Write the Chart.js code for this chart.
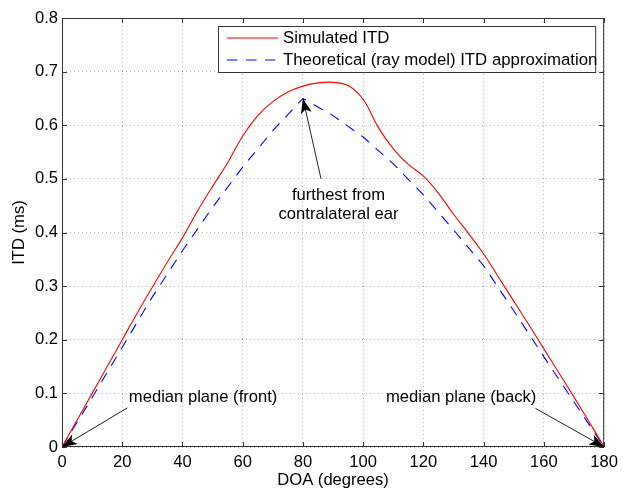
<!DOCTYPE html>
<html>
<head>
<meta charset="utf-8">
<script src="https://cdn.jsdelivr.net/npm/chart.js@4"></script>
<style>
  body { margin: 0; background: #fff; }
</style>
</head>
<body>
<canvas id="grafico" width="623" height="490"></canvas>
<script>
// dados
let doaSim = [0, 5, 10, 15, 20, 25, 30, 35, 40, 45, 50, 55, 60, 65, 70, 75, 80, 85, 90,
  95, 100, 105, 110, 115, 120, 125, 130, 135, 140, 145, 150, 155, 160, 165, 170, 175, 180];
let itdSim = [0, 0.05, 0.1, 0.15, 0.2, 0.25, 0.298, 0.345, 0.39, 0.44, 0.486, 0.53, 0.58, 0.618, 0.644, 0.662, 0.673, 0.679, 0.68,
  0.674, 0.648, 0.596, 0.556, 0.527, 0.505, 0.473, 0.434, 0.398, 0.36, 0.316, 0.272, 0.228, 0.183, 0.138, 0.093, 0.047, 0];

let doaRay = [0, 10, 20, 30, 40, 50, 60, 70, 80, 90, 100, 110, 120, 130, 140, 150, 160, 170, 180];
let itdRay = [0, 0.092, 0.186, 0.28, 0.366, 0.447, 0.522, 0.59, 0.65, 0.618, 0.578, 0.528, 0.47, 0.405, 0.338, 0.254, 0.168, 0.084, 0];

let xTicks = [0, 20, 40, 60, 80, 100, 120, 140, 160, 180];
let yTicks = [0, 0.1, 0.2, 0.3, 0.4, 0.5, 0.6, 0.7, 0.8];

let legendLabels = ["Simulated ITD", "Theoretical (ray model) ITD approximation"];

// anotações (coordenadas em graus / ms)
let notas = [
  { text: ["furthest from", "contralateral ear"], x: 91.8, y: 0.47, align: "center", from: [86, 0.5], to: [80, 0.65] },
  { text: ["median plane (front)"], x: 22.2, y: 0.093, align: "left", from: [21.7, 0.073], to: [0, 0] },
  { text: ["median plane (back)"], x: 157.5, y: 0.092, align: "right", from: [157.2, 0.072], to: [180, 0] }
];

let fonte = "'Liberation Sans', Arial, Helvetica, sans-serif";
let corEixo = "#333";
let tam = 16.6;

function seta(ctx, x1, y1, x2, y2) {
  ctx.beginPath();
  ctx.moveTo(x1, y1);
  ctx.lineTo(x2, y2);
  ctx.stroke();
  let ang = Math.atan2(y2 - y1, x2 - x1);
  let len = 15, larg = 5.5;
  ctx.save();
  ctx.translate(x2, y2);
  ctx.rotate(ang);
  ctx.beginPath();
  ctx.moveTo(0, 0);
  ctx.lineTo(-len, -larg);
  ctx.lineTo(-len * 0.75, 0);
  ctx.lineTo(-len, larg);
  ctx.closePath();
  ctx.fill();
  ctx.restore();
}

// caixa, ticks para dentro, legenda e anotações
let extras = {
  id: "extras",
  afterDatasetsDraw(chart) {
    let ctx = chart.ctx;
    let a = chart.chartArea;
    let xs = chart.scales.x, ys = chart.scales.y;

    ctx.save();
    ctx.strokeStyle = corEixo;
    ctx.lineWidth = 1;
    ctx.strokeRect(a.left + 0.5, a.top + 0.5, a.right - a.left - 1, a.bottom - a.top - 1);

    ctx.beginPath();
    xTicks.forEach(v => {
      let px = Math.round(xs.getPixelForValue(v)) + 0.5;
      ctx.moveTo(px, a.bottom); ctx.lineTo(px, a.bottom - 5);
      ctx.moveTo(px, a.top); ctx.lineTo(px, a.top + 5);
    });
    yTicks.forEach(v => {
      let py = Math.round(ys.getPixelForValue(v)) + 0.5;
      ctx.moveTo(a.left, py); ctx.lineTo(a.left + 5, py);
      ctx.moveTo(a.right, py); ctx.lineTo(a.right - 5, py);
    });
    ctx.stroke();

    // anotações
    ctx.fillStyle = "#000";
    ctx.strokeStyle = "#222";
    ctx.font = tam + "px " + fonte;
    ctx.textBaseline = "middle";
    notas.forEach(n => {
      ctx.textAlign = n.align;
      let tx = xs.getPixelForValue(n.x);
      let ty = ys.getPixelForValue(n.y);
      n.text.forEach((t, i) => ctx.fillText(t, tx, ty + i * 19));
      seta(ctx, xs.getPixelForValue(n.from[0]), ys.getPixelForValue(n.from[1]),
        xs.getPixelForValue(n.to[0]), ys.getPixelForValue(n.to[1]));
    });

    // legenda
    let bx = a.left + 156, by = a.top + 8, bw = a.right - 9 - bx, bh = 46;
    ctx.fillStyle = "#fff";
    ctx.fillRect(bx, by, bw, bh);
    ctx.strokeStyle = corEixo;
    ctx.strokeRect(bx + 0.5, by + 0.5, bw, bh);
    let cores = ["#ff0000", "#0000ff"];
    let dashes = [[], [10.5, 8.5]];
    ctx.font = "16.8px " + fonte;
    legendLabels.forEach((lab, i) => {
      let ly = by + 12 + i * 22;
      ctx.strokeStyle = cores[i];
      ctx.lineWidth = 1.1;
      ctx.setLineDash(dashes[i]);
      ctx.beginPath();
      ctx.moveTo(bx + 9, ly);
      ctx.lineTo(bx + 60, ly);
      ctx.stroke();
      ctx.setLineDash([]);
      ctx.fillStyle = "#000";
      ctx.textAlign = "left";
      ctx.fillText(lab, bx + 65, ly);
    });
    ctx.restore();
  }
};

let canvas = document.getElementById("grafico");
let chart = new Chart(canvas.getContext("2d"), {
  type: "line",
  data: {
    datasets: [
      {
        label: legendLabels[0],
        data: doaSim.map((d, i) => ({ x: d, y: itdSim[i] })),
        borderColor: "#ff0000",
        borderWidth: 1.1,
        pointRadius: 0,
        tension: 0.4
      },
      {
        label: legendLabels[1],
        data: doaRay.map((d, i) => ({ x: d, y: itdRay[i] })),
        borderColor: "#0000ff",
        borderWidth: 1.1,
        borderDash: [10.5, 8.5],
        pointRadius: 0,
        tension: 0
      }
    ]
  },
  options: {
    responsive: false,
    animation: false,
    layout: { padding: { top: 18, right: 16, left: 0, bottom: 0 } },
    plugins: { legend: { display: false }, tooltip: { enabled: false } },
    scales: {
      x: {
        type: "linear",
        min: 0,
        max: 180,
        afterBuildTicks: s => { s.ticks = xTicks.map(v => ({ value: v })); },
        afterFit: s => { s.height = 43; },
        grid: { color: "#b0b0b0", drawTicks: false },
        border: { display: false, dash: [1, 3] },
        ticks: { color: "#000", padding: 5, font: { family: fonte, size: tam }, maxRotation: 0 },
        title: { display: true, text: "DOA (degrees)", color: "#000", font: { family: fonte, size: tam }, padding: { bottom: 0 } }
      },
      y: {
        type: "linear",
        min: 0,
        max: 0.8,
        afterBuildTicks: s => { s.ticks = yTicks.map(v => ({ value: v })); },
        afterFit: s => { s.width = 62; },
        grid: { color: "#b0b0b0", drawTicks: false },
        border: { display: false, dash: [1, 3] },
        ticks: { color: "#000", padding: 4, font: { family: fonte, size: tam }, callback: v => String(Math.round(v * 10) / 10) },
        title: { display: true, text: "ITD (ms)", color: "#000", font: { family: fonte, size: tam }, padding: { top: 9 } }
      }
    }
  },
  plugins: [extras]
});
</script>
</body>
</html>
